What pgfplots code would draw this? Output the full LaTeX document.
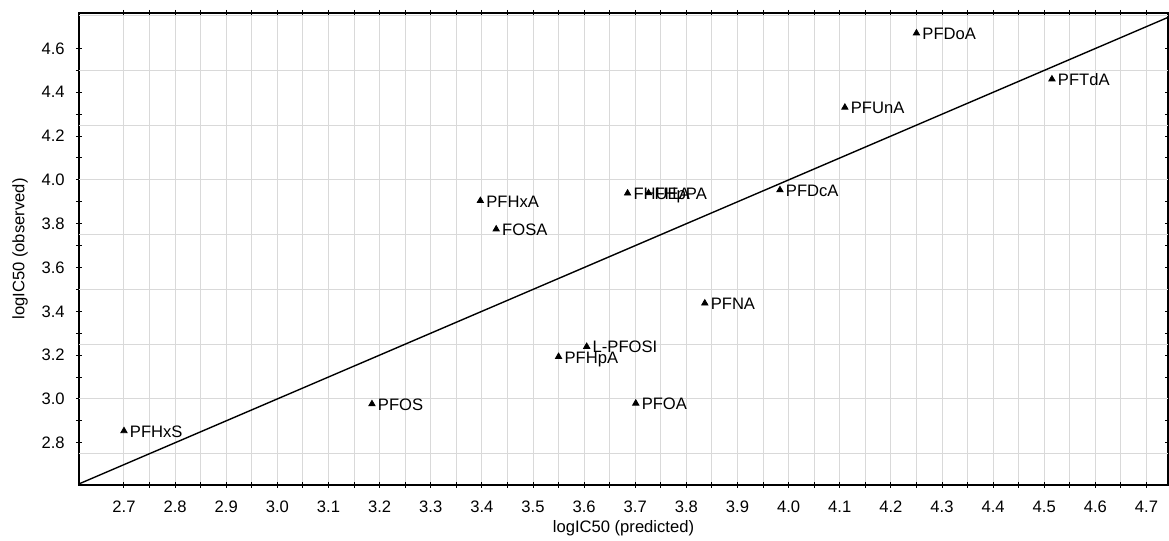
\documentclass[border=0pt]{standalone}
\usepackage{fontspec}
\setmainfont{Liberation Sans}
\usepackage{pgfplots}
\usepackage{pgfplotstable}
\pgfplotsset{compat=1.18}

% logIC50 predicted vs observed
\pgfplotstableread{
x      y      label
2.700  2.854  PFHxS
3.185  2.977  PFOS
3.397  3.905  PFHxA
3.428  3.775  FOSA
3.550  3.193  PFHpA
3.605  3.239  L-PFOSI
3.701  2.980  PFOA
3.685  3.939  FHUEA
3.726  3.940  FHpPA
3.836  3.437  PFNA
3.983  3.954  PFDcA
4.110  4.331  PFUnA
4.250  4.670  PFDoA
4.515  4.460  PFTdA
}\pts

\begin{document}
\begin{tikzpicture}
  \begin{axis}[
      scale only axis,
      width=544.5pt, height=236pt,
      xmin=2.612, xmax=4.742, ymin=2.607, ymax=4.762,
      font=\fontsize{8.3}{10}\selectfont,
      axis line style={line width=0.8pt},
      tick style={black, line width=0.5pt},
      tick align=center,
      major tick length=3pt, minor tick length=3pt,
      xtick={2.7,2.8,...,4.75},
      minor x tick num=1,
      xmajorgrids, xminorgrids,
      ytick={2.8,3.0,...,4.65},
      minor y tick num=1,
      extra y ticks={2.75,3.0,3.25,3.5,3.75,4.0,4.25,4.5,4.75},
      extra y tick labels={},
      extra y tick style={major tick length=0pt, grid=major},
      grid style={line width=0.5pt, draw=black!15},
      /pgf/number format/.cd, fixed, fixed zerofill, precision=1, assume math mode=true,
      /pgfplots/.cd,
      x tick label style={anchor=north, inner sep=0pt, yshift=-6.5pt},
      y tick label style={anchor=east, inner sep=0pt, xshift=-5.5pt},
      xlabel={logIC50 (predicted)},
      ylabel={logIC50 (observed)},
      every axis x label/.style={at={(axis description cs:0.5,0)}, anchor=center, yshift=-21.5pt},
      every axis y label/.style={at={(axis description cs:-0.0542,0.5)}, rotate=90, anchor=center},
    ]
    \addplot[black, line width=0.7pt] coordinates {(2.60,2.60) (4.80,4.80)};
    \addplot[only marks, mark=triangle*, mark size=1.8pt, black,
      nodes near coords, point meta=explicit symbolic,
      every node near coord/.append style={anchor=base west, inner sep=0pt,
        xshift=2.8pt, yshift=-3.2pt, font=\fontsize{8.3}{10}\selectfont}]
      table[x=x, y=y, meta=label] {\pts};
  \end{axis}
  \pgfresetboundingbox
  \path[use as bounding box] ([shift={(-39.5pt,-28pt)}]current axis.south west)
    rectangle ([shift={(0.5pt,6.5pt)}]current axis.north east);
\end{tikzpicture}
\end{document}
